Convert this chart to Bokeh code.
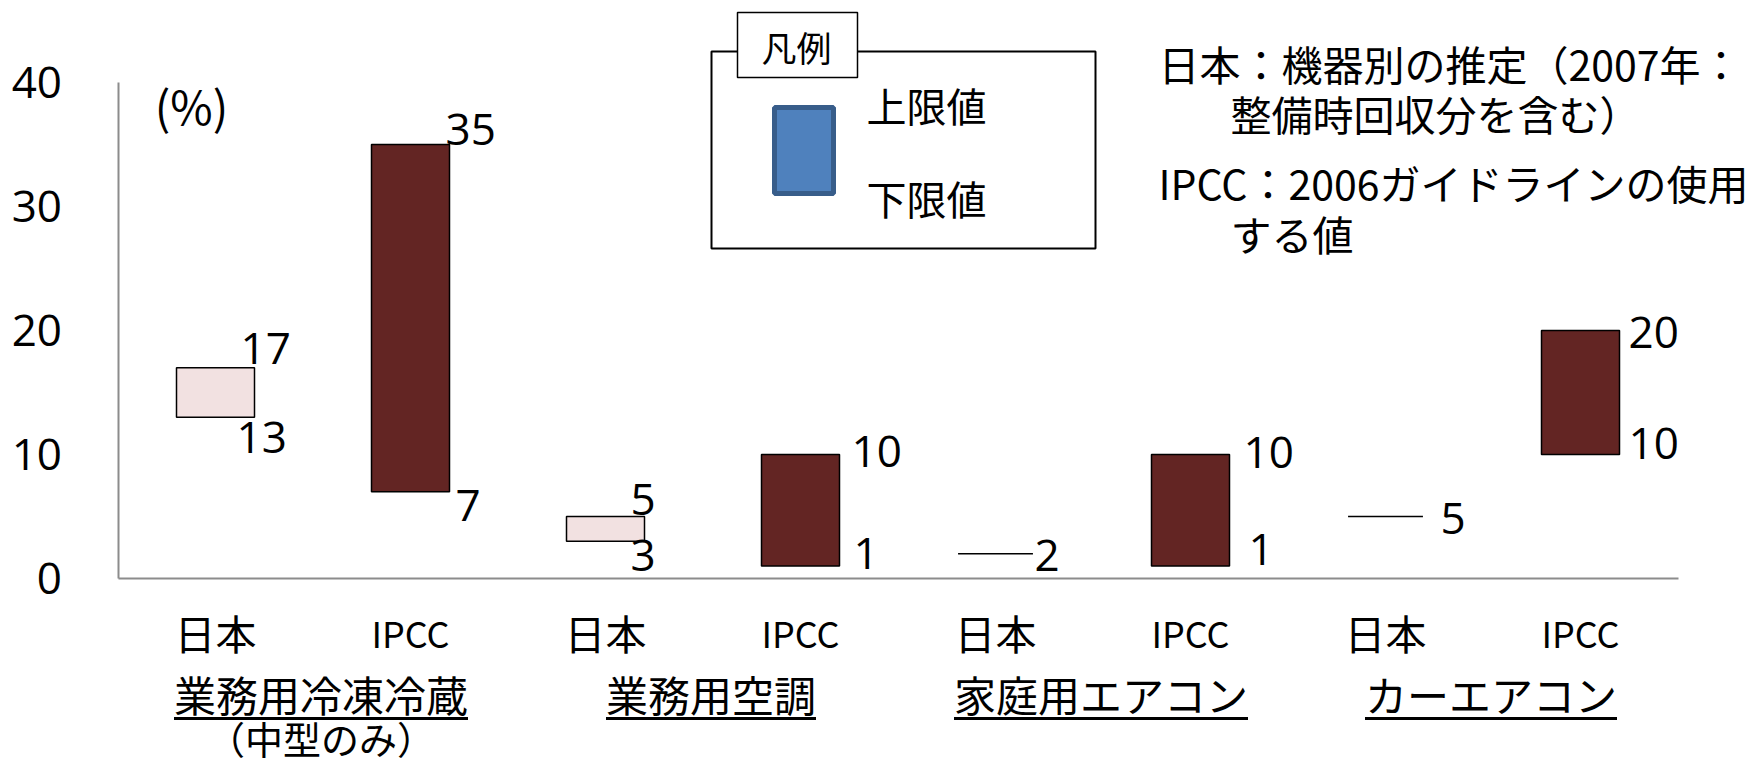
from bokeh.plotting import figure
from bokeh.models import Range1d, LinearAxis, FixedTicker, ColumnDataSource
from bokeh.core.properties import value
from bokeh.embed import file_html
from bokeh.resources import INLINE

# ---------------- data ----------------
groups = ["業務用冷凍冷蔵", "業務用空調", "家庭用エアコン", "カーエアコン"]
group_notes = ["（中型のみ）", "", "", ""]
sources = ["日本", "IPCC"]
lower = [13, 7, 3, 1, 2, 1, 5, 10]
upper = [17, 35, 5, 10, 2, 10, 5, 20]
y_ticks = [0, 10, 20, 30, 40]
y_unit = "(%)"
legend_title = "凡例"
legend_upper = "上限値"
legend_lower = "下限値"
note_lines = ["日本：機器別の推定（2007年：", "整備時回収分を含む）",
              "IPCC：2006ガイドラインの使用", "する値"]

# ---------------- layout / style ----------------
W, H = 1754, 767
PX0, PXU = 215.0, 195.0     # px of first category, px per category
PY0, PYU = 578.0, 12.4      # px of value 0, px per unit

def X(px):
    return (px - PX0) / PXU

def Y(py):
    return (PY0 - py) / PYU

CJK = "Noto Sans CJK JP"
NUM = "Open Sans"
src_colors = {"日本": "#F2E1E1", "IPCC": "#632523"}
BAR_W = 0.40
# hand placement of the value labels (screen px, per bar)
up_dx = [-14, -4, -14, 12, 0, 14, 16, 9]
up_dy = [-19, -15, -17, -3, 2, -2, 2, 2]
lo_dx = [-18, 6, -14, 14, 0, 19, 0, 9]
lo_dy = [20, 14, 14, -13, 0, -17, 0, -11]

p = figure(width=W, height=H, x_range=Range1d(X(0), X(W)), y_range=Range1d(Y(H), Y(0)),
           output_backend="svg", toolbar_location=None, min_border=0,
           x_axis_type=None, y_axis_type=None, outline_line_color=None)
p.xgrid.visible = False
p.ygrid.visible = False
p.background_fill_color = "white"

n = len(lower)
xs = list(range(n))
src_names = [sources[i % 2] for i in range(n)]

# axes
yaxis = LinearAxis(fixed_location=-0.5, bounds=(0, 40), ticker=FixedTicker(ticks=y_ticks),
                   axis_line_color="#8c8c8c", axis_line_width=2,
                   major_tick_line_color=None, minor_tick_line_color=None,
                   major_label_text_font=NUM, major_label_text_font_size="44px",
                   major_label_text_color="black", major_label_standoff=50)
p.add_layout(yaxis, "left")

jp_ticks = [i for i in xs if src_names[i] == sources[0]]
ip_ticks = [i for i in xs if src_names[i] == sources[1]]
xaxis = LinearAxis(fixed_location=0, bounds=(-0.5, 7.5), ticker=FixedTicker(ticks=jp_ticks),
                   major_label_overrides={i: src_names[i] for i in jp_ticks},
                   axis_line_color="#8c8c8c", axis_line_width=2,
                   major_tick_line_color=None, minor_tick_line_color=None,
                   major_label_text_font=CJK, major_label_text_font_size="41px",
                   major_label_text_color="black", major_label_standoff=17)
p.add_layout(xaxis, "below")
xaxis2 = LinearAxis(fixed_location=0, bounds=(-0.5, 7.5), ticker=FixedTicker(ticks=ip_ticks),
                    major_label_overrides={i: src_names[i] for i in ip_ticks},
                    axis_line_color=None,
                    major_tick_line_color=None, minor_tick_line_color=None,
                    major_label_text_font=CJK, major_label_text_font_size="36px",
                    major_label_text_color="black", major_label_standoff=21)
p.add_layout(xaxis2, "below")

# range bars and single-value lines
bx, bl, bu, bc = [], [], [], []
sx0, sx1, sy = [], [], []
for i in xs:
    if upper[i] > lower[i]:
        bx.append(i); bl.append(lower[i]); bu.append(upper[i]); bc.append(src_colors[src_names[i]])
    else:
        sx0.append(i - BAR_W * 0.48); sx1.append(i + BAR_W * 0.48); sy.append(upper[i])

p.vbar(x=bx, width=BAR_W, bottom=bl, top=bu, fill_color=bc, line_color="black", line_width=1.5)
p.segment(x0=sx0, y0=sy, x1=sx1, y1=sy, line_color="black", line_width=1.6)

# value labels
lx, ly, lt, lxo, lyo = [], [], [], [], []
for i in xs:
    edge = i + BAR_W / 2
    lx.append(edge); ly.append(upper[i]); lt.append(str(upper[i]))
    lxo.append(up_dx[i]); lyo.append(up_dy[i])
    if upper[i] > lower[i]:
        lx.append(edge); ly.append(lower[i]); lt.append(str(lower[i]))
        lxo.append(lo_dx[i]); lyo.append(lo_dy[i])
lab = ColumnDataSource(dict(x=lx, y=ly, text=lt, xo=lxo, yo=lyo))
p.text(x="x", y="y", text="text", x_offset="xo", y_offset="yo", source=lab,
       text_font=value(NUM), text_font_size="44px", text_align="left",
       text_baseline="middle", text_color="black")

# group labels with underline
for g, name in enumerate(groups):
    cx = 2 * g + 0.5 + 8 / PXU
    fs = 42
    p.text(x=[cx], y=[Y(693)], text=[name], text_font=value(CJK), text_font_size=f"{fs}px",
           text_align="center", text_baseline="middle", text_color="black")
    half = len(name) * fs / 2 / PXU
    p.segment(x0=[cx - half], x1=[cx + half], y0=[Y(718)], y1=[Y(718)],
              line_color="black", line_width=3)
    if group_notes[g]:
        p.text(x=[cx], y=[Y(737)], text=[group_notes[g]], text_font=value(CJK),
               text_font_size="38px", text_align="center", text_baseline="middle",
               text_color="black")

# unit label
p.text(x=[X(191)], y=[Y(104)], text=[y_unit], text_font=value(CJK), text_font_size="46px",
       text_align="center", text_baseline="middle", text_color="black")

# legend drawing
p.quad(left=[X(711)], right=[X(1095)], top=[Y(51)], bottom=[Y(248)],
       fill_color="white", line_color="black", line_width=2)
p.quad(left=[X(737)], right=[X(857)], top=[Y(12)], bottom=[Y(77)],
       fill_color="white", line_color="black", line_width=1.5)
p.text(x=[X(796)], y=[Y(46)], text=[legend_title], text_font=value(CJK), text_font_size="35px",
       text_align="center", text_baseline="middle", text_color="black")
p.quad(left=[X(774)], right=[X(833)], top=[Y(107)], bottom=[Y(193)],
       fill_color="#4F81BD", line_color="#385D8A", line_width=5)
p.text(x=[X(866), X(866)], y=[Y(104), Y(197)], text=[legend_upper, legend_lower],
       text_font=value(CJK), text_font_size="40px", text_align="left",
       text_baseline="middle", text_color="black")

# notes
note_x = [X(1158), X(1230), X(1158), X(1230)]
note_y = [Y(62), Y(112), Y(181), Y(232)]
p.text(x=note_x, y=note_y, text=note_lines, text_font=value(CJK), text_font_size="41px",
       text_align="left", text_baseline="middle", text_color="black")

open("out.html", "w").write(file_html(p, INLINE))
